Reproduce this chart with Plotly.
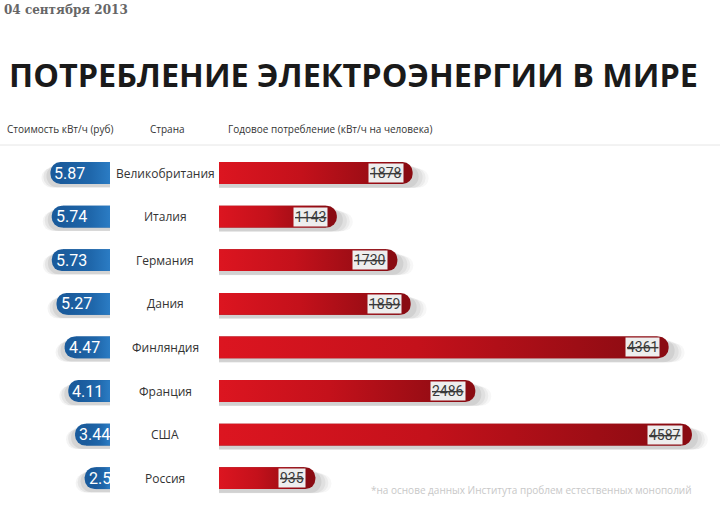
import plotly.graph_objects as go

# ---------------- data ----------------
countries = ["Великобритания", "Италия", "Германия", "Дания",
             "Финляндия", "Франция", "США", "Россия"]
price_rub = [5.87, 5.74, 5.73, 5.27, 4.47, 4.11, 3.44, 2.5]
consumption = [1878, 1143, 1730, 1859, 4361, 2486, 4587, 935]

date_text = "04 сентября 2013"
title_text = "ПОТРЕБЛЕНИЕ ЭЛЕКТРОЭНЕРГИИ В МИРЕ"
header_price = "Стоимость кВт/ч (руб)"
header_country = "Страна"
header_cons = "Годовое потребление (кВт/ч на человека)"
footnote = "*на основе данных Института проблем естественных монополий"

# ---------------- layout geometry ----------------
W, H = 720, 510
ROW0_PX, ROW_STEP = 173, 43.6
rows = list(range(len(countries)))
y_range = [(H - ROW0_PX) / ROW_STEP, -ROW0_PX / ROW_STEP]

BAR_X0_PX = 219
PX_PER_KWH = 0.1031
x_max = (W - BAR_X0_PX) / PX_PER_KWH
ux = 1 / PX_PER_KWH                       # data units per pixel (main axis)

PILL_RIGHT_PX = 110
PX_PER_RUB = 10.15
x3_min = -PILL_RIGHT_PX / PX_PER_RUB
ux3 = 1 / PX_PER_RUB

BAR_W = 0.5
R = 11  # corner radius px

NUMF = "Roboto, Liberation Sans Narrow, DejaVu Sans Condensed, sans-serif"
SANS = "Open Sans, Noto Sans, sans-serif"

fig = go.Figure()

# ---- red bar shadows (soft, several faint layers) ----
for e, w, dy, a in [(16, 0.42, 0.12, 0.04), (13, 0.46, 0.11, 0.05),
                    (10, 0.49, 0.10, 0.06), (6, 0.52, 0.08, 0.08)]:
    fig.add_trace(go.Bar(
        x=[v + e * ux for v in consumption], y=rows, orientation="h",
        width=w, offset=-w / 2 + dy, xaxis="x", yaxis="y",
        marker=dict(color=f"rgba(40,40,40,{a})", cornerradius="50%", line=dict(width=0)),
        hoverinfo="skip", showlegend=False))

# ---- red bar base (dark rounded end) ----
fig.add_trace(go.Bar(
    x=consumption, y=rows, orientation="h", width=BAR_W, xaxis="x", yaxis="y",
    marker=dict(color="#8a0b12", cornerradius=R, line=dict(width=0)),
    hoverinfo="skip", showlegend=False))

# ---- blue pill shadows ----
for e, w, dy, a in [(9, 0.44, 0.11, 0.05), (7, 0.48, 0.09, 0.07), (4, 0.51, 0.07, 0.09)]:
    fig.add_trace(go.Bar(
        x=[-(p + e * ux3) for p in price_rub], y=rows, orientation="h",
        width=w, offset=-w / 2 + dy, xaxis="x3", yaxis="y",
        marker=dict(color=f"rgba(40,40,40,{a})", cornerradius="50%", line=dict(width=0)),
        hoverinfo="skip", showlegend=False))

# ---- blue pill base ----
fig.add_trace(go.Bar(
    x=[-p for p in price_rub], y=rows, orientation="h", width=BAR_W,
    xaxis="x3", yaxis="y",
    marker=dict(color="#1a5b9c", cornerradius=R, line=dict(width=0)),
    hoverinfo="skip", showlegend=False))

# ---- gradient bodies ----
for i, v in zip(rows, consumption):
    xe = v - R * ux
    fig.add_trace(go.Scatter(
        x=[0, xe, xe, 0, 0],
        y=[i - BAR_W / 2, i - BAR_W / 2, i + BAR_W / 2, i + BAR_W / 2, i - BAR_W / 2],
        mode="lines", fill="toself", line=dict(width=0, color="rgba(0,0,0,0)"),
        fillgradient=dict(type="horizontal",
                          colorscale=[[0, "#dc1520"], [0.45, "#c4111b"], [1, "#8a0b12"]]),
        xaxis="x", yaxis="y", hoverinfo="skip", showlegend=False))

for i, p in zip(rows, price_rub):
    xs = -(p - R * ux3)
    fig.add_trace(go.Scatter(
        x=[xs, 0, 0, xs, xs],
        y=[i - BAR_W / 2, i - BAR_W / 2, i + BAR_W / 2, i + BAR_W / 2, i - BAR_W / 2],
        mode="lines", fill="toself", line=dict(width=0, color="rgba(0,0,0,0)"),
        fillgradient=dict(type="horizontal",
                          colorscale=[[0, "#1a5b9c"], [0.6, "#1f67ab"], [1, "#2b7cc4"]]),
        xaxis="x3", yaxis="y", hoverinfo="skip", showlegend=False))

annotations = []

# pill labels
for i, p in zip(rows, price_rub):
    annotations.append(dict(
        x=-p, y=i, xref="x3", yref="y", text=f"{p:g}", showarrow=False,
        xanchor="left", yanchor="middle", xshift=2,
        font=dict(family=NUMF, size=16, color="white")))

# country names
for i, c in zip(rows, countries):
    annotations.append(dict(
        x=165 / W, y=i, xref="paper", yref="y", text=c, showarrow=False,
        xanchor="center", yanchor="middle",
        font=dict(family=SANS, size=12, color="#333333")))

# value labels (split-flap look)
for i, v in zip(rows, consumption):
    annotations.append(dict(
        x=v, y=i, xref="x", yref="y", text=str(v), showarrow=False,
        xanchor="right", yanchor="middle", xshift=-9,
        bgcolor="#eeeeee", borderpad=1,
        font=dict(family=NUMF, size=14, color="#3a3a3a", lineposition="through")))

# headers
hy = 1 - 129 / H
annotations += [
    dict(x=5 / W, y=hy, xref="paper", yref="paper", text=header_price, showarrow=False,
         xanchor="left", yanchor="middle", font=dict(family=SANS, size=10, color="#333333")),
    dict(x=148 / W, y=hy, xref="paper", yref="paper", text=header_country, showarrow=False,
         xanchor="left", yanchor="middle", font=dict(family=SANS, size=10, color="#333333")),
    dict(x=226 / W, y=hy, xref="paper", yref="paper", text=header_cons, showarrow=False,
         xanchor="left", yanchor="middle", font=dict(family=SANS, size=10, color="#333333")),
]

# title, date, footnote
annotations += [
    dict(x=7 / W, y=1 - 74 / H, xref="paper", yref="paper", text=title_text, showarrow=False,
         xanchor="left", yanchor="middle",
         font=dict(family=SANS, size=32.4, color="#1a1a1a", weight="bold")),
    dict(x=2 / W, y=1 - 10 / H, xref="paper", yref="paper", text=date_text, showarrow=False,
         xanchor="left", yanchor="middle",
         font=dict(family="DejaVu Serif, serif", size=12, color="#666666", weight="bold")),
    dict(x=694 / W, y=1 - 490 / H, xref="paper", yref="paper", text=footnote, showarrow=False,
         xanchor="right", yanchor="middle",
         font=dict(family=SANS, size=10, color="#c8c8c8")),
]

fig.update_layout(
    width=W, height=H,
    margin=dict(l=0, r=0, t=0, b=0, pad=0),
    paper_bgcolor="white", plot_bgcolor="white",
    barmode="overlay",
    showlegend=False,
    xaxis=dict(domain=[BAR_X0_PX / W, 1], range=[0, x_max], visible=False,
               fixedrange=True, anchor="y"),
    xaxis3=dict(domain=[0, PILL_RIGHT_PX / W], range=[x3_min, 0], visible=False,
                fixedrange=True, anchor="y"),
    yaxis=dict(domain=[0, 1], range=y_range, visible=False, fixedrange=True, anchor="x"),
    annotations=annotations,
    shapes=[dict(type="line", xref="paper", yref="paper", x0=0, x1=1,
                 y0=1 - 145 / H, y1=1 - 145 / H,
                 line=dict(color="#e6e6e6", width=1))],
)

fig.write_html("out.html")
